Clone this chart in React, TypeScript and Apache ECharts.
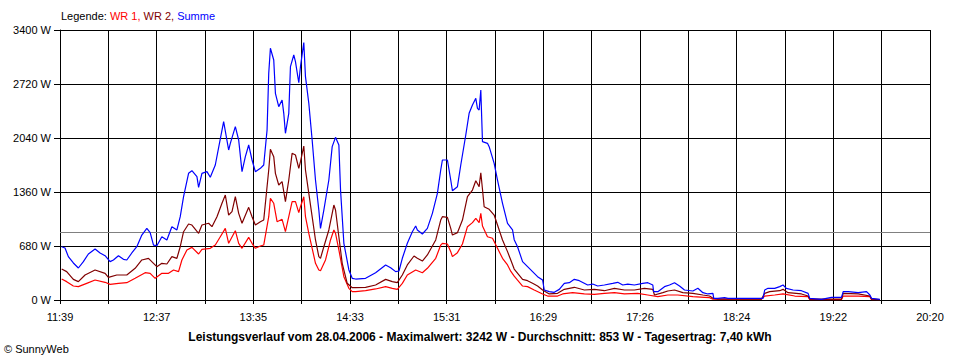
import React, { useEffect, useRef } from "react";
import * as echarts from "echarts";

// Time axis: 11:39 .. 20:20 (521 minutes), 18 grid steps, labels every 2nd step
const totalMinutes = 521;
const gridSteps = 18;
const xTickLabels = ["11:39", "12:37", "13:35", "14:33", "15:31", "16:29", "17:26", "18:24", "19:22", "20:20"];
const yTicks = [0, 680, 1360, 2040, 2720, 3400];
const averageW = 853;

// [minutes since 11:39, watts]
const wr1: number[][] = [
  [1, 264], [4, 231], [8, 176], [11, 168], [16, 210], [21, 252], [27, 223], [30, 197], [35, 210], [40, 218],
  [45, 273], [51, 344], [54, 336], [57, 273], [61, 336], [65, 336], [68, 378], [71, 357], [73, 504], [76, 630],
  [79, 663], [83, 579], [85, 638], [90, 651], [93, 692], [96, 797], [99, 902], [101, 714], [105, 873], [107, 714],
  [109, 651], [113, 789], [115, 714], [117, 651], [120, 680], [122, 692], [125, 1049], [126, 1280], [128, 1218],
  [130, 986], [133, 1016], [135, 860], [137, 1049], [139, 1238], [141, 1238], [143, 1100], [144, 1175], [146, 1301],
  [147, 1049], [149, 840], [151, 651], [153, 462], [155, 378], [156, 369], [159, 504], [162, 756], [164, 882],
  [165, 840], [167, 630], [170, 294], [173, 147], [175, 105], [177, 105], [183, 117], [189, 139], [195, 168],
  [199, 147], [202, 134], [205, 210], [208, 315], [213, 378], [217, 344], [220, 399], [225, 525], [228, 692],
  [229, 714], [232, 705], [234, 609], [235, 546], [238, 596], [241, 705], [244, 923], [247, 974], [249, 1028],
  [251, 974], [252, 1091], [253, 932], [256, 797], [259, 777], [262, 651], [265, 525], [268, 441], [270, 360],
  [272, 300], [274, 250], [277, 176], [280, 168], [284, 126], [289, 76], [292, 50], [298, 50], [301, 76],
  [307, 92], [314, 76], [320, 71], [326, 84], [332, 92], [338, 76], [346, 84], [352, 63], [358, 42], [364, 63],
  [370, 63], [379, 42], [386, 34], [389, 29], [391, 10], [420, 10], [422, 50], [428, 63], [433, 76], [440, 50],
  [448, 42], [449, 5], [468, 5], [469, 50], [478, 50], [485, 42], [486, 5], [491, 3],
];

const wr2: number[][] = [
  [1, 390], [4, 357], [8, 260], [11, 231], [15, 315], [21, 378], [27, 336], [29, 285], [34, 315], [40, 315],
  [45, 399], [49, 504], [53, 525], [56, 462], [58, 420], [61, 462], [64, 453], [67, 546], [70, 525], [72, 671],
  [74, 860], [77, 957], [79, 944], [83, 840], [85, 944], [89, 966], [91, 923], [94, 1049], [97, 1218], [99, 1322],
  [101, 1070], [103, 1112], [105, 1301], [107, 1091], [109, 966], [113, 1167], [115, 1049], [117, 944], [120, 986],
  [122, 1007], [125, 1637], [126, 1897], [128, 1805], [129, 1595], [131, 1448], [133, 1490], [135, 1238],
  [137, 1511], [139, 1847], [141, 1826], [143, 1658], [144, 1742], [146, 1939], [147, 1637], [149, 1343],
  [151, 1049], [153, 756], [155, 546], [156, 525], [158, 671], [161, 882], [164, 1196], [165, 1133], [167, 797],
  [169, 462], [172, 210], [175, 155], [177, 155], [183, 160], [189, 189], [195, 260], [199, 231], [202, 218],
  [205, 315], [208, 441], [212, 554], [214, 525], [217, 491], [220, 567], [225, 756], [228, 1007], [229, 1049],
  [232, 1041], [234, 902], [235, 818], [238, 848], [241, 1007], [244, 1301], [247, 1385], [249, 1502],
  [251, 1427], [252, 1603], [253, 1394], [254, 1175], [257, 1142], [260, 1070], [262, 944], [265, 756],
  [268, 609], [270, 500], [272, 390], [277, 260], [280, 243], [283, 210], [286, 176], [289, 126], [293, 76],
  [298, 84], [302, 134], [308, 160], [314, 126], [320, 134], [326, 117], [332, 147], [338, 126], [344, 126],
  [350, 147], [355, 134], [356, 63], [361, 92], [364, 113], [368, 126], [373, 92], [379, 84], [385, 63],
  [389, 50], [391, 21], [394, 10], [420, 10], [422, 84], [425, 105], [431, 117], [433, 134], [436, 92],
  [444, 76], [448, 50], [449, 10], [468, 10], [469, 84], [478, 76], [485, 50], [486, 10], [491, 5],
];

const summe: number[][] = [
  [1, 671], [3, 655], [5, 546], [8, 466], [11, 403], [14, 483], [17, 579], [21, 642], [24, 592], [27, 558],
  [30, 483], [32, 504], [35, 558], [38, 512], [40, 504], [43, 592], [46, 671], [49, 818], [52, 902], [54, 848],
  [56, 692], [58, 684], [61, 797], [64, 756], [67, 923], [70, 882], [72, 1049], [74, 1301], [77, 1595],
  [79, 1628], [82, 1553], [83, 1419], [85, 1595], [88, 1616], [90, 1545], [93, 1700], [96, 2030], [98, 2245],
  [101, 1889], [102, 1973], [105, 2183], [107, 2015], [109, 1616], [111, 1805], [113, 1952], [115, 1763],
  [117, 1616], [120, 1658], [122, 1700], [124, 2141], [125, 2855], [126, 3170], [128, 3022], [129, 2603],
  [131, 2435], [133, 2519], [134, 2351], [135, 2099], [137, 2351], [138, 2938], [140, 3085], [141, 3001],
  [143, 2736], [144, 2938], [146, 3242], [147, 2812], [149, 2477], [151, 2015], [153, 1511], [155, 1133],
  [156, 902], [158, 1133], [161, 1511], [163, 1931], [165, 2048], [167, 1952], [168, 1385], [170, 714],
  [173, 378], [175, 273], [177, 264], [183, 273], [189, 344], [195, 441], [198, 407], [201, 357], [203, 365],
  [205, 525], [208, 714], [211, 860], [213, 932], [214, 882], [217, 831], [220, 902], [223, 1091], [226, 1343],
  [228, 1637], [229, 1763], [232, 1763], [234, 1511], [235, 1376], [238, 1427], [240, 1700], [243, 2078],
  [245, 2351], [247, 2456], [249, 2540], [250, 2414], [251, 2393], [252, 2645], [253, 1994], [256, 1973],
  [257, 1931], [260, 1721], [262, 1511], [265, 1218], [268, 966], [271, 882], [272, 760], [274, 671],
  [277, 483], [280, 420], [283, 357], [286, 294], [289, 252], [290, 126], [293, 105], [296, 97], [299, 134],
  [302, 210], [305, 218], [308, 260], [311, 243], [316, 189], [319, 201], [322, 176], [326, 189], [331, 210],
  [334, 223], [337, 189], [340, 201], [344, 189], [349, 210], [352, 218], [355, 189], [355.5, 105], [358, 105],
  [362, 168], [365, 189], [368, 218], [371, 176], [374, 126], [379, 113], [382, 147], [385, 92], [388, 76],
  [391, 84], [391.5, 21], [394, 21], [398, 29], [400, 21], [408, 21], [418, 21], [421, 21], [422, 126],
  [424, 147], [428, 147], [431, 168], [433, 189], [435, 147], [439, 126], [444, 117], [448, 84], [449, 21],
  [456, 8], [462, 34], [468, 34], [469, 105], [472, 105], [478, 92], [483, 105], [485, 63], [486, 21], [491, 8],
];

const legendLabel = "Legende:";
const seriesNames = ["WR 1", "WR 2", "Summe"];
const seriesColors = ["#ff0000", "#800000", "#0000ff"];
const footerText =
  "Leistungsverlauf vom 28.04.2006 - Maximalwert: 3242 W - Durchschnitt: 853 W - Tagesertrag: 7,40 kWh";
const copyrightText = "\u00a9 SunnyWeb";

const FONT = "Liberation Sans";

const toAxis = (pts: number[][]) => pts.map(([m, w]) => [(m * gridSteps) / totalMinutes, w]);

export default function App() {
  const ref = useRef<HTMLDivElement>(null);
  useEffect(() => {
    if (!ref.current) return;
    const chart = echarts.init(ref.current, undefined, { renderer: "svg" });
    const allSeries = [wr1, wr2, summe];
    chart.setOption({
      animation: false,
      backgroundColor: "#ffffff",
      title: {
        left: 61,
        top: 10,
        padding: 0,
        text: `{k|${legendLabel}} {a|${seriesNames[0]},} {b|${seriesNames[1]},} {c|${seriesNames[2]}}`,
        textStyle: {
          fontFamily: FONT,
          fontSize: 11,
          fontWeight: "normal",
          rich: {
            k: { color: "#000", fontFamily: FONT, fontSize: 11 },
            a: { color: seriesColors[0], fontFamily: FONT, fontSize: 11 },
            b: { color: seriesColors[1], fontFamily: FONT, fontSize: 11 },
            c: { color: seriesColors[2], fontFamily: FONT, fontSize: 11 },
          },
        },
      },
      graphic: [
        {
          type: "text",
          left: "center",
          top: 331,
          style: { text: footerText, fill: "#000", font: `bold 12px "${FONT}"` },
        },
        {
          type: "text",
          left: 4,
          top: 343,
          style: { text: copyrightText, fill: "#000", font: `11px "${FONT}"` },
        },
      ],
      grid: { left: 60, right: 30, top: 30, bottom: 60, containLabel: false },
      xAxis: {
        type: "value",
        min: 0,
        max: gridSteps,
        interval: 1,
        axisLine: { show: true, lineStyle: { color: "#000", width: 1 } },
        axisTick: { show: true, length: 4, lineStyle: { color: "#000" } },
        splitLine: { show: true, lineStyle: { color: "#000", width: 1 } },
        axisLabel: {
          color: "#000",
          fontFamily: FONT,
          fontSize: 11,
          margin: 11,
          showMinLabel: true,
          showMaxLabel: true,
          hideOverlap: false,
          formatter: (v: number) => {
            const i = Math.round(v);
            return i % 2 === 0 ? xTickLabels[i / 2] : "";
          },
        },
      },
      yAxis: {
        type: "value",
        min: yTicks[0],
        max: yTicks[yTicks.length - 1],
        interval: yTicks[1] - yTicks[0],
        axisLine: { show: true, lineStyle: { color: "#000", width: 1 } },
        axisTick: { show: true, length: 6, lineStyle: { color: "#000" } },
        splitLine: { show: true, lineStyle: { color: "#000", width: 1 } },
        axisLabel: {
          color: "#000",
          fontFamily: FONT,
          fontSize: 11,
          margin: 9,
          formatter: (v: number) => `${v} W`,
        },
      },
      series: allSeries.map((pts, i) => ({
        name: seriesNames[i],
        type: "line",
        data: toAxis(pts),
        showSymbol: false,
        symbol: "none",
        lineStyle: { color: seriesColors[i], width: 1.2 },
        itemStyle: { color: seriesColors[i] },
        z: 3 + i,
        markLine:
          i === 0
            ? {
                silent: true,
                symbol: "none",
                label: { show: false },
                lineStyle: { color: "#808080", type: "solid", width: 1 },
                data: [{ yAxis: averageW }],
                z: 2,
              }
            : undefined,
      })),
    });
    return () => chart.dispose();
  }, []);
  return (
    <div
      ref={ref}
      style={{ position: "fixed", left: 0, top: 0, width: 960, height: 360, background: "#fff" }}
    />
  );
}
